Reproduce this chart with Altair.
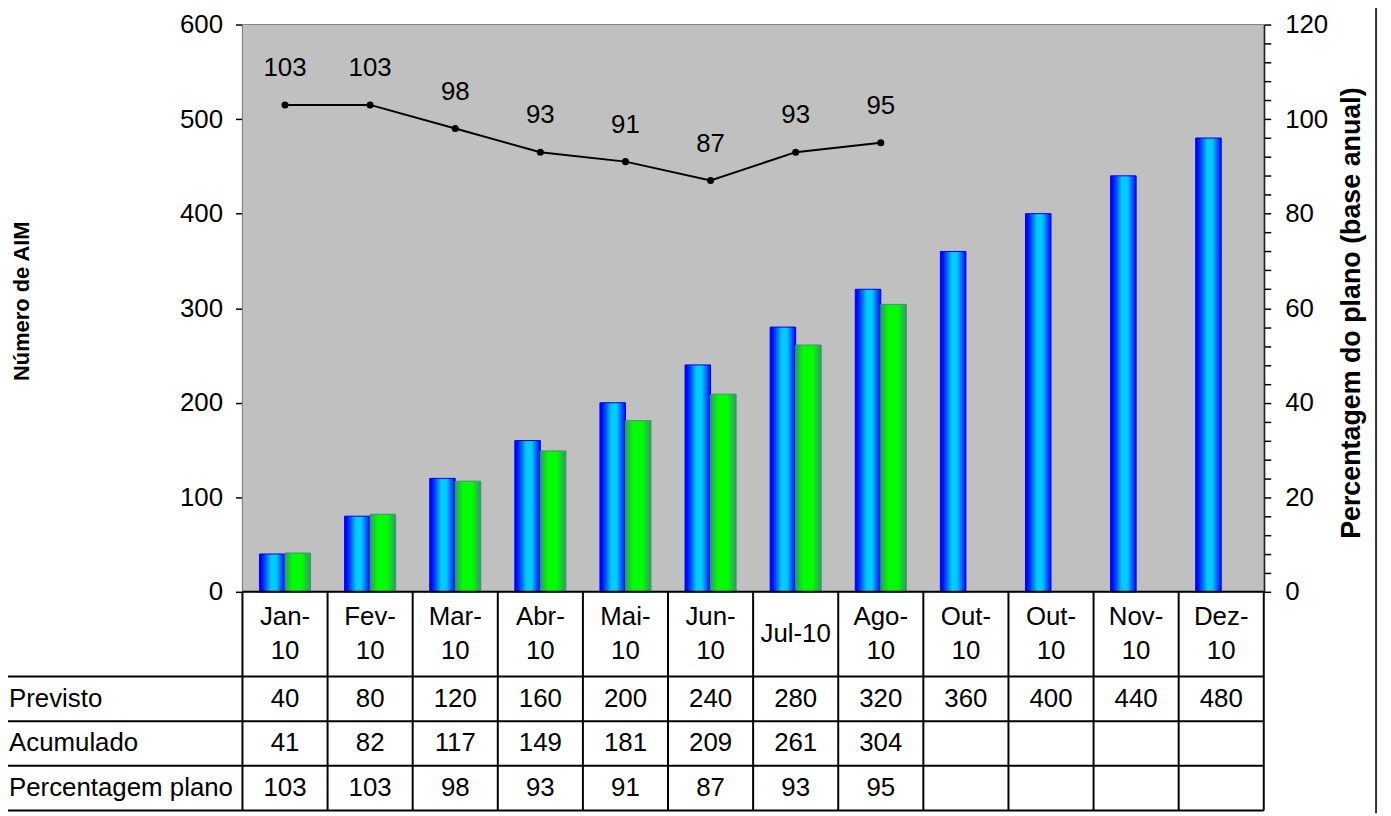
import altair as alt
import pandas as pd

# ---------------- data ----------------
months = ["Jan-\n10", "Fev-\n10", "Mar-\n10", "Abr-\n10", "Mai-\n10", "Jun-\n10",
          "Jul-10", "Ago-\n10", "Out-\n10", "Out-\n10", "Nov-\n10", "Dez-\n10"]
previsto = [40, 80, 120, 160, 200, 240, 280, 320, 360, 400, 440, 480]
acumulado = [41, 82, 117, 149, 181, 209, 261, 304]
percentagem = [103, 103, 98, 93, 91, 87, 93, 95]
row_names = ["Previsto", "Acumulado", "Percentagem plano"]
left_ticks = [0, 100, 200, 300, 400, 500, 600]
right_ticks = list(range(0, 121, 4))

# ---------------- layout ----------------
FONT = "Liberation Sans"
FS = 26
W = 1028          # plot width
PLOT_H = 571      # plot area height
H = 791           # plot + table height
N = len(months)
HEADER_H = 1.9    # table row heights (table units)
ROW_H = 1.0
LINE_GAP = 0.38   # half line spacing of two-line header labels (table units)
row_bounds = [0, HEADER_H, HEADER_H + ROW_H, HEADER_H + 2 * ROW_H, HEADER_H + 3 * ROW_H]
TABLE_MAX = row_bounds[-1]

idx = list(range(N))

bars_df = pd.DataFrame(
    [{"idx": i, "serie": "Previsto", "v": v} for i, v in enumerate(previsto)]
    + [{"idx": i, "serie": "Acumulado", "v": v} for i, v in enumerate(acumulado)]
)
line_df = pd.DataFrame({"idx": idx[:len(percentagem)], "pct": percentagem})

# table texts
cells = []
for i in idx:
    parts = months[i].split("\n")
    if len(parts) == 1:
        cells.append({"idx": i, "ty": HEADER_H / 2, "t": parts[0]})
    else:
        cells.append({"idx": i, "ty": HEADER_H / 2 - LINE_GAP, "t": parts[0]})
        cells.append({"idx": i, "ty": HEADER_H / 2 + LINE_GAP, "t": parts[1]})
    cells.append({"idx": i, "ty": row_bounds[1] + ROW_H / 2, "t": str(previsto[i])})
    if i < len(acumulado):
        cells.append({"idx": i, "ty": row_bounds[2] + ROW_H / 2, "t": str(acumulado[i])})
    if i < len(percentagem):
        cells.append({"idx": i, "ty": row_bounds[3] + ROW_H / 2, "t": str(percentagem[i])})
cells_df = pd.DataFrame(cells)
rowlab_df = pd.DataFrame({"ty": [row_bounds[k + 1] + ROW_H / 2 for k in range(3)], "name": row_names})

# table grid lines
lines = [{"x0": 0, "x1": N, "y0": 0, "y1": 0}]
for b in row_bounds[1:]:
    lines.append({"x0": -3, "x1": N, "y0": b, "y1": b})
for c in range(N + 1):
    lines.append({"x0": c, "x1": c, "y0": 0, "y1": TABLE_MAX})
lines_df = pd.DataFrame(lines)

# ---------------- scales ----------------
xband = alt.Scale(domain=idx, paddingInner=0.4, paddingOuter=0.2)
xoff = alt.Scale(domain=["Previsto", "Acumulado"], paddingInner=0, paddingOuter=0)
ybar = alt.Scale(domain=[0, 600], range=[PLOT_H, 0], nice=False, zero=True)
ypct = alt.Scale(domain=[0, 120], range=[PLOT_H, 0], nice=False, zero=True)
xtab = alt.Scale(domain=[0, N], range=[0, W], nice=False, zero=False)
ytab = alt.Scale(domain=[0, TABLE_MAX], range=[PLOT_H, H], nice=False, zero=False)

blue_grad = alt.LinearGradient(
    gradient="linear", x1=0, x2=1, y1=0, y2=0,
    stops=[alt.GradientStop(offset=0, color="#0000ff"),
           alt.GradientStop(offset=0.1, color="#0010ff"),
           alt.GradientStop(offset=0.45, color="#00ccff"),
           alt.GradientStop(offset=0.65, color="#00ccff"),
           alt.GradientStop(offset=0.9, color="#0040ff"),
           alt.GradientStop(offset=1, color="#0000ff")])
green_grad = alt.LinearGradient(
    gradient="linear", x1=0, x2=1, y1=0, y2=0,
    stops=[alt.GradientStop(offset=0, color="#339966"),
           alt.GradientStop(offset=0.3, color="#00ff00"),
           alt.GradientStop(offset=0.65, color="#00ff00"),
           alt.GradientStop(offset=1, color="#339966")])

left_axis = alt.Axis(
    orient="left", values=left_ticks, grid=False,
    labelFont=FONT, labelFontSize=FS, labelColor="black", labelPadding=13,
    tickColor="black", tickSize=7, tickWidth=1.5,
    domainColor="black", domainWidth=2,
    title="Número de AIM", titleFont=FONT, titleFontSize=22, titleFontWeight="bold",
    titleColor="black", titleAngle=270, titleX=-222, titleY=278,
    titleAlign="center", titleBaseline="middle")
right_axis = alt.Axis(
    orient="right", values=right_ticks, grid=False, labelOverlap=False,
    labelExpr="datum.value % 20 == 0 ? datum.label : ''",
    labelFont=FONT, labelFontSize=FS, labelColor="black", labelPadding=14,
    tickColor="black", tickSize=7, tickWidth=1.5,
    domainColor="black", domainWidth=2,
    title="Percentagem do plano (base anual)", titleFont=FONT, titleFontSize=27,
    titleFontWeight="bold", titleColor="black", titleAngle=270, titleX=88, titleY=290,
    titleAlign="center", titleBaseline="middle")

# ---------------- layers ----------------
bg = alt.Chart(pd.DataFrame({"a": [0]})).mark_rect(
    fill="#c0c0c0", stroke="#808080", strokeWidth=1
).encode(x=alt.value(0), x2=alt.value(W), y=alt.value(0), y2=alt.value(PLOT_H))

bars_blue = alt.Chart(bars_df).transform_filter(alt.datum.serie == "Previsto").mark_bar(
    fill=blue_grad, stroke="#0000ff", strokeWidth=1
).encode(
    x=alt.X("idx:O", scale=xband, axis=None),
    xOffset=alt.XOffset("serie:N", scale=xoff),
    y=alt.Y("v:Q", scale=ybar, axis=left_axis),
)
bars_green = alt.Chart(bars_df).transform_filter(alt.datum.serie == "Acumulado").mark_bar(
    fill=green_grad, stroke="#339966", strokeWidth=1
).encode(
    x=alt.X("idx:O", scale=xband, axis=None),
    xOffset=alt.XOffset("serie:N", scale=xoff),
    y=alt.Y("v:Q", scale=ybar, axis=None),
)

line = alt.Chart(line_df).mark_line(color="black", strokeWidth=2).encode(
    x=alt.X("idx:O", scale=xband, axis=None),
    y=alt.Y("pct:Q", scale=ypct, axis=right_axis),
)
pts = alt.Chart(line_df).mark_circle(color="black", size=50, opacity=1).encode(
    x=alt.X("idx:O", scale=xband, axis=None),
    y=alt.Y("pct:Q", scale=ypct, axis=None),
)
pct_labels = alt.Chart(line_df).mark_text(
    font=FONT, fontSize=FS, color="black", dy=-37, baseline="middle", align="center"
).encode(
    x=alt.X("idx:O", scale=xband, axis=None),
    y=alt.Y("pct:Q", scale=ypct, axis=None),
    text="pct:Q",
)

grid_lines = alt.Chart(lines_df).mark_rule(color="black", strokeWidth=2).encode(
    x=alt.X("x0:Q", scale=xtab, axis=None),
    x2="x1:Q",
    y=alt.Y("y0:Q", scale=ytab, axis=None),
    y2="y1:Q",
)
cell_text = alt.Chart(cells_df).mark_text(
    font=FONT, fontSize=FS, color="black", baseline="middle", align="center"
).encode(
    x=alt.X("idx:O", scale=xband, axis=None),
    y=alt.Y("ty:Q", scale=ytab, axis=None),
    text="t:N",
)
row_text = alt.Chart(rowlab_df).mark_text(
    font=FONT, fontSize=FS, color="black", baseline="middle", align="left"
).encode(
    x=alt.value(-235),
    y=alt.Y("ty:Q", scale=ytab, axis=None),
    text="name:N",
)
frame = alt.Chart(pd.DataFrame({"a": [0]})).mark_rule(color="#333333", strokeWidth=2).encode(
    x=alt.value(1141), y=alt.value(-22), y2=alt.value(H + 3)
)

chart = alt.layer(
    bg, bars_blue, bars_green, line, pts, pct_labels, grid_lines, cell_text, row_text, frame
).resolve_scale(
    x="independent", y="independent"
).properties(
    width=W, height=H,
    autosize=alt.AutoSizeParams(type="none"),
    padding={"left": 236, "top": 14, "right": 120, "bottom": 3},
    background="white",
).configure_view(stroke=None)

chart.save("out.html", embed_options={"renderer": "svg", "actions": False})
